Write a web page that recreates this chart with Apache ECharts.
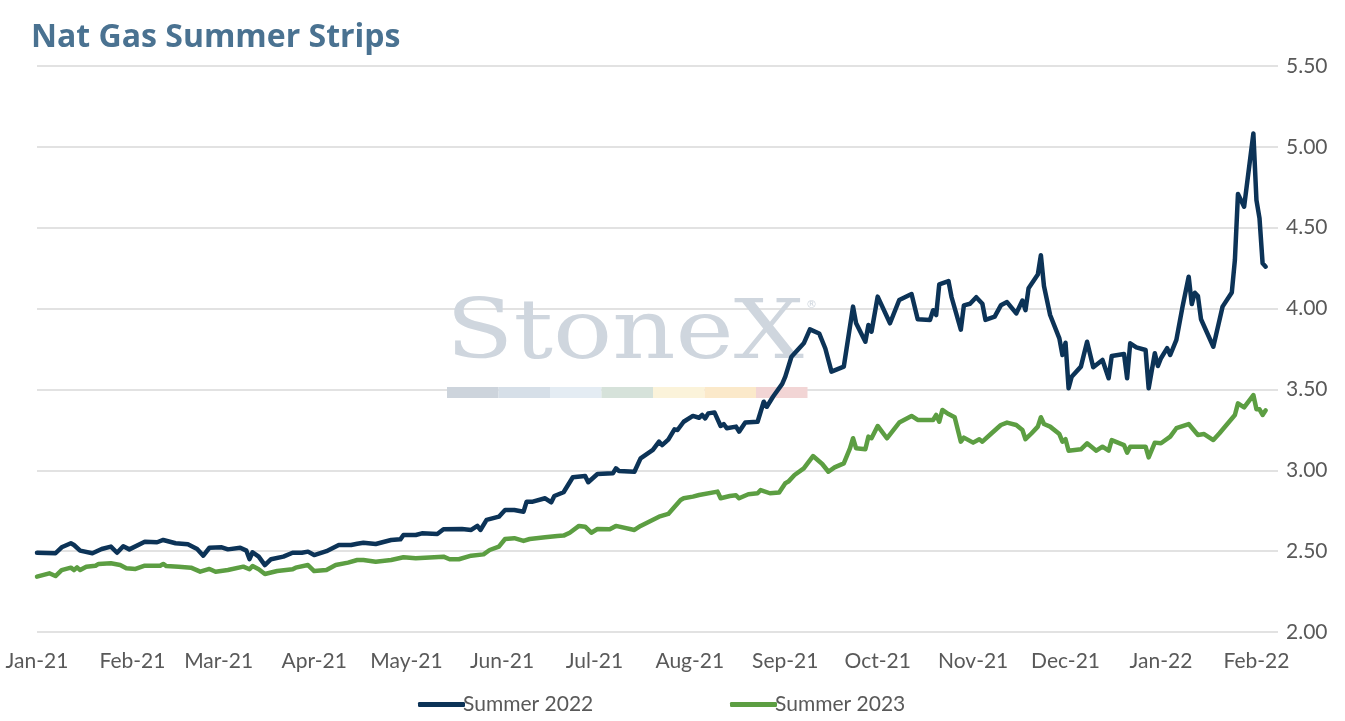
<!DOCTYPE html>
<html lang="en">
<head>
    <meta http-equiv="Content-Type" content="text/html; charset=utf-8"/>
    <title>Nat Gas Summer Strips</title>
    <script src="https://cdn.jsdelivr.net/npm/echarts@6/dist/echarts.min.js"></script>
</head>
<body>
<style>
    html, body {
        margin: 0;
        padding: 0;
        background: #fff;
    }

    #chart {
        width: 1345px;
        height: 721px;
    }
</style>
<div id="chart"></div>
<script type="text/javascript">

  // values
  var dates2022 = [
    '2021-01-01', '2021-01-07', '2021-01-09', '2021-01-12', '2021-01-13', '2021-01-15', '2021-01-19', '2021-01-22',
    '2021-01-25', '2021-01-27', '2021-01-29', '2021-01-31', '2021-02-05', '2021-02-09', '2021-02-11', '2021-02-15',
    '2021-02-19', '2021-02-22', '2021-02-24', '2021-02-26', '2021-03-02', '2021-03-04', '2021-03-08', '2021-03-10',
    '2021-03-11', '2021-03-12', '2021-03-14', '2021-03-16', '2021-03-18', '2021-03-22', '2021-03-25', '2021-03-28',
    '2021-03-30', '2021-04-01', '2021-04-05', '2021-04-09', '2021-04-13', '2021-04-15', '2021-04-17', '2021-04-21',
    '2021-04-26', '2021-04-29', '2021-04-30', '2021-05-04', '2021-05-06', '2021-05-11', '2021-05-13', '2021-05-19',
    '2021-05-22', '2021-05-24', '2021-05-25', '2021-05-27', '2021-05-31', '2021-06-02', '2021-06-05', '2021-06-08',
    '2021-06-09', '2021-06-11', '2021-06-15', '2021-06-17', '2021-06-18', '2021-06-21', '2021-06-24', '2021-06-28',
    '2021-06-29', '2021-07-02', '2021-07-07', '2021-07-08', '2021-07-09', '2021-07-14', '2021-07-16', '2021-07-20',
    '2021-07-22', '2021-07-23', '2021-07-25', '2021-07-27', '2021-07-28', '2021-07-30', '2021-08-02', '2021-08-04',
    '2021-08-05', '2021-08-06', '2021-08-07', '2021-08-09', '2021-08-11', '2021-08-12', '2021-08-13', '2021-08-16',
    '2021-08-17', '2021-08-19', '2021-08-23', '2021-08-25', '2021-08-26', '2021-08-28', '2021-08-31', '2021-09-01',
    '2021-09-03', '2021-09-07', '2021-09-09', '2021-09-12', '2021-09-14', '2021-09-16', '2021-09-20', '2021-09-23',
    '2021-09-24', '2021-09-27', '2021-09-28', '2021-09-29', '2021-10-01', '2021-10-05', '2021-10-08', '2021-10-12',
    '2021-10-14', '2021-10-18', '2021-10-19', '2021-10-20', '2021-10-21', '2021-10-24', '2021-10-25', '2021-10-28',
    '2021-10-29', '2021-10-31', '2021-11-02', '2021-11-04', '2021-11-05', '2021-11-08', '2021-11-10', '2021-11-12',
    '2021-11-15', '2021-11-17', '2021-11-18', '2021-11-19', '2021-11-22', '2021-11-23', '2021-11-24', '2021-11-26',
    '2021-11-29', '2021-11-30', '2021-12-01', '2021-12-02', '2021-12-03', '2021-12-06', '2021-12-08', '2021-12-10',
    '2021-12-13', '2021-12-15', '2021-12-16', '2021-12-20', '2021-12-21', '2021-12-22', '2021-12-24', '2021-12-27',
    '2021-12-28', '2021-12-30', '2021-12-31', '2022-01-01', '2022-01-03', '2022-01-04', '2022-01-06', '2022-01-08',
    '2022-01-10', '2022-01-11', '2022-01-12', '2022-01-13', '2022-01-14', '2022-01-18', '2022-01-20', '2022-01-21',
    '2022-01-24', '2022-01-25', '2022-01-26', '2022-01-28', '2022-01-31', '2022-02-01', '2022-02-02', '2022-02-03',
    '2022-02-04'
  ];
  var summer2022 = [
    2.49, 2.487, 2.524, 2.549, 2.538, 2.503, 2.487, 2.513,
    2.528, 2.49, 2.53, 2.511, 2.558, 2.555, 2.569, 2.549,
    2.542, 2.513, 2.472, 2.521, 2.524, 2.511, 2.521, 2.503,
    2.451, 2.493, 2.466, 2.414, 2.45, 2.466, 2.49, 2.49,
    2.497, 2.476, 2.50, 2.538, 2.538, 2.546, 2.552, 2.544,
    2.569, 2.573, 2.60, 2.60, 2.61, 2.606, 2.635, 2.637,
    2.631, 2.656, 2.631, 2.693, 2.713, 2.754, 2.754, 2.744,
    2.806, 2.806, 2.827, 2.802, 2.841, 2.864, 2.957, 2.965,
    2.926, 2.977, 2.981, 3.012, 2.996, 2.991, 3.074, 3.126,
    3.177, 3.156, 3.19, 3.253, 3.249, 3.30, 3.336, 3.325,
    3.342, 3.321, 3.352, 3.358, 3.274, 3.286, 3.26, 3.27,
    3.239, 3.295, 3.30, 3.424, 3.393, 3.455, 3.534, 3.579,
    3.702, 3.785, 3.871, 3.846, 3.753, 3.61, 3.641, 4.012,
    3.909, 3.795, 3.899, 3.857, 4.074, 3.909, 4.053, 4.09,
    3.934, 3.93, 3.99, 3.96, 4.15, 4.17, 4.07, 3.87,
    4.02, 4.03, 4.07, 4.03, 3.93, 3.95, 4.02, 4.04,
    3.97, 4.05, 3.99, 4.125, 4.21, 4.33, 4.14, 3.96,
    3.816, 3.713, 3.789, 3.507, 3.579, 3.641, 3.795, 3.637,
    3.682, 3.569, 3.707, 3.719, 3.569, 3.785, 3.76, 3.744,
    3.507, 3.724, 3.645, 3.693, 3.755, 3.713, 3.806, 4.012,
    4.197, 4.028, 4.098, 4.078, 3.934, 3.764, 3.93, 4.012,
    4.10, 4.30, 4.709, 4.63, 5.083, 4.67, 4.557, 4.28,
    4.259
  ];

  var dates2023 = [
    '2021-01-01', '2021-01-05', '2021-01-07', '2021-01-09', '2021-01-12', '2021-01-13', '2021-01-14', '2021-01-15',
    '2021-01-17', '2021-01-20', '2021-01-21', '2021-01-25', '2021-01-28', '2021-01-30', '2021-02-02', '2021-02-05',
    '2021-02-10', '2021-02-11', '2021-02-12', '2021-02-16', '2021-02-20', '2021-02-23', '2021-02-26', '2021-02-28',
    '2021-03-04', '2021-03-09', '2021-03-11', '2021-03-12', '2021-03-14', '2021-03-16', '2021-03-20', '2021-03-25',
    '2021-03-26', '2021-03-30', '2021-04-01', '2021-04-05', '2021-04-08', '2021-04-12', '2021-04-15', '2021-04-17',
    '2021-04-21', '2021-04-26', '2021-04-30', '2021-05-04', '2021-05-13', '2021-05-15', '2021-05-18', '2021-05-22',
    '2021-05-26', '2021-05-28', '2021-05-31', '2021-06-02', '2021-06-05', '2021-06-08', '2021-06-10', '2021-06-15',
    '2021-06-19', '2021-06-21', '2021-06-23', '2021-06-26', '2021-06-28', '2021-06-30', '2021-07-02', '2021-07-06',
    '2021-07-08', '2021-07-14', '2021-07-16', '2021-07-22', '2021-07-25', '2021-07-29', '2021-07-30', '2021-08-02',
    '2021-08-04', '2021-08-10', '2021-08-11', '2021-08-14', '2021-08-16', '2021-08-17', '2021-08-20', '2021-08-23',
    '2021-08-24', '2021-08-27', '2021-08-30', '2021-09-01', '2021-09-02', '2021-09-04', '2021-09-07', '2021-09-10',
    '2021-09-13', '2021-09-15', '2021-09-17', '2021-09-20', '2021-09-22', '2021-09-23', '2021-09-24', '2021-09-27',
    '2021-09-28', '2021-09-29', '2021-10-01', '2021-10-04', '2021-10-08', '2021-10-12', '2021-10-14', '2021-10-19',
    '2021-10-20', '2021-10-21', '2021-10-22', '2021-10-24', '2021-10-26', '2021-10-28', '2021-10-29', '2021-11-01',
    '2021-11-03', '2021-11-04', '2021-11-07', '2021-11-10', '2021-11-12', '2021-11-15', '2021-11-17', '2021-11-18',
    '2021-11-20', '2021-11-22', '2021-11-23', '2021-11-24', '2021-11-26', '2021-11-29', '2021-11-30', '2021-12-01',
    '2021-12-02', '2021-12-06', '2021-12-08', '2021-12-11', '2021-12-13', '2021-12-15', '2021-12-16', '2021-12-20',
    '2021-12-21', '2021-12-22', '2021-12-27', '2021-12-28', '2021-12-30', '2022-01-01', '2022-01-04', '2022-01-06',
    '2022-01-10', '2022-01-13', '2022-01-15', '2022-01-18', '2022-01-20', '2022-01-25', '2022-01-26', '2022-01-28',
    '2022-01-31', '2022-02-01', '2022-02-02', '2022-02-03', '2022-02-04'
  ];
  var summer2023 = [
    2.342, 2.363, 2.346, 2.383, 2.398, 2.383, 2.40, 2.383,
    2.404, 2.41, 2.421, 2.425, 2.414, 2.394, 2.39, 2.41,
    2.41, 2.421, 2.408, 2.404, 2.398, 2.373, 2.39, 2.373,
    2.383, 2.404, 2.388, 2.408, 2.388, 2.359, 2.377, 2.388,
    2.398, 2.414, 2.377, 2.383, 2.414, 2.429, 2.445, 2.445,
    2.435, 2.445, 2.462, 2.456, 2.466, 2.45, 2.45, 2.472,
    2.48, 2.507, 2.528, 2.575, 2.58, 2.563, 2.575, 2.586,
    2.594, 2.596, 2.614, 2.656, 2.651, 2.614, 2.637, 2.635,
    2.656, 2.631, 2.656, 2.713, 2.73, 2.816, 2.827, 2.837,
    2.847, 2.868, 2.827, 2.841, 2.845, 2.827, 2.852, 2.858,
    2.878, 2.858, 2.862, 2.92, 2.93, 2.971, 3.012, 3.088,
    3.039, 2.991, 3.018, 3.043, 3.136, 3.198, 3.136, 3.13,
    3.208, 3.198, 3.274, 3.198, 3.295, 3.336, 3.311, 3.311,
    3.342, 3.30, 3.373, 3.348, 3.328, 3.177, 3.202, 3.171,
    3.192, 3.177, 3.229, 3.28, 3.295, 3.28, 3.249, 3.192,
    3.229, 3.27, 3.328, 3.286, 3.27, 3.224, 3.177, 3.192,
    3.121, 3.13, 3.167, 3.121, 3.146, 3.121, 3.187, 3.156,
    3.109, 3.146, 3.146, 3.08, 3.171, 3.167, 3.208, 3.26,
    3.286, 3.218, 3.224, 3.187, 3.229, 3.342, 3.414, 3.389,
    3.465, 3.377, 3.377, 3.342, 3.371
  ];

  var seriesNames = ['Summer 2022', 'Summer 2023'];
  var monthNames = ['Jan', 'Feb', 'Mar', 'Apr', 'May', 'Jun', 'Jul', 'Aug', 'Sep', 'Oct', 'Nov', 'Dec'];
  var axisStart = '2021-01-01';
  var axisEnd = '2022-02-08';

  var COLORS = ['#0c3357', '#5c9e42'];
  var LABEL_FONT = 'Lato';
  var DAY = 24 * 3600 * 1000;

  function pairs(dates, values) {
    return dates.map(function (d, i) {
      return [d, values[i]];
    });
  }

  function monthLabel(value) {
    var d = new Date(value);
    return monthNames[d.getMonth()] + '-' + String(d.getFullYear()).slice(2);
  }

  // stonex watermark, a text and a strip of coloured blocks
  var stripColors = ['#cdd4dc', '#d6dfe8', '#e4ecf3', '#d6e2da', '#fbf3da', '#fbe9ca', '#f2d5d5'];
  var watermark = [{
    type: 'text',
    x: 446,
    y: 296,
    scaleX: 1.2,
    z: 1,
    style: {
      text: 'StoneX',
      fill: '#cfd6de',
      font: 'normal 82px "DejaVu Serif"'
    }
  }, {
    type: 'text',
    x: 806,
    y: 300,
    z: 1,
    style: {
      text: '\u00ae',
      fill: '#cfd6de',
      font: 'normal 11px "DejaVu Sans"'
    }
  }];
  stripColors.forEach(function (c, i) {
    watermark.push({
      type: 'rect',
      left: 447 + i * 51.5,
      top: 387,
      z: 1,
      shape: {width: 51.5, height: 11},
      style: {fill: c}
    });
  });

  var chart = echarts.init(document.getElementById('chart'));

  var option = {
    animation: false,
    backgroundColor: '#ffffff',
    title: {
      text: 'Nat Gas Summer Strips',
      left: 26,
      top: 17,
      textStyle: {
        fontFamily: 'Open Sans',
        fontSize: 32,
        fontWeight: 'bold',
        color: '#4a7291'
      }
    },
    graphic: watermark,
    legend: [{
      data: [seriesNames[0]],
      left: 413,
      top: 689,
      icon: 'roundRect',
      itemWidth: 47,
      itemHeight: 5,
      textStyle: {fontFamily: LABEL_FONT, fontSize: 21, color: '#595959', padding: [0, 0, 0, -7]}
    }, {
      data: [seriesNames[1]],
      left: 725,
      top: 689,
      icon: 'roundRect',
      itemWidth: 47,
      itemHeight: 5,
      textStyle: {fontFamily: LABEL_FONT, fontSize: 21, color: '#595959', padding: [0, 0, 0, -7]}
    }],
    grid: {
      left: 37,
      right: 67,
      top: 66,
      bottom: 89,
      containLabel: false
    },
    xAxis: {
      type: 'time',
      min: axisStart,
      max: axisEnd,
      minInterval: 28 * DAY,
      maxInterval: 31 * DAY,
      axisLine: {show: false},
      axisTick: {show: false},
      splitLine: {show: false},
      axisLabel: {
        formatter: monthLabel,
        margin: 19,
        interval: 0,
        hideOverlap: false,
        fontFamily: LABEL_FONT,
        fontSize: 21,
        color: '#595959'
      }
    },
    yAxis: {
      type: 'value',
      position: 'right',
      min: 2,
      max: 5.5,
      interval: 0.5,
      axisLine: {show: false},
      axisTick: {show: false},
      splitLine: {lineStyle: {color: '#d9d9d9', width: 1.5}},
      axisLabel: {
        formatter: function (v) {
          return v.toFixed(2);
        },
        margin: 8,
        fontFamily: LABEL_FONT,
        fontSize: 21,
        color: '#595959'
      }
    },
    series: [{
      name: seriesNames[0],
      type: 'line',
      data: pairs(dates2022, summer2022),
      showSymbol: false,
      color: COLORS[0],
      lineStyle: {width: 4.5, color: COLORS[0], cap: 'round', join: 'round'},
      z: 3
    }, {
      name: seriesNames[1],
      type: 'line',
      data: pairs(dates2023, summer2023),
      showSymbol: false,
      color: COLORS[1],
      lineStyle: {width: 4.5, color: COLORS[1], cap: 'round', join: 'round'},
      z: 3
    }]
  };

  chart.setOption(option);
</script>
</body>
</html>
